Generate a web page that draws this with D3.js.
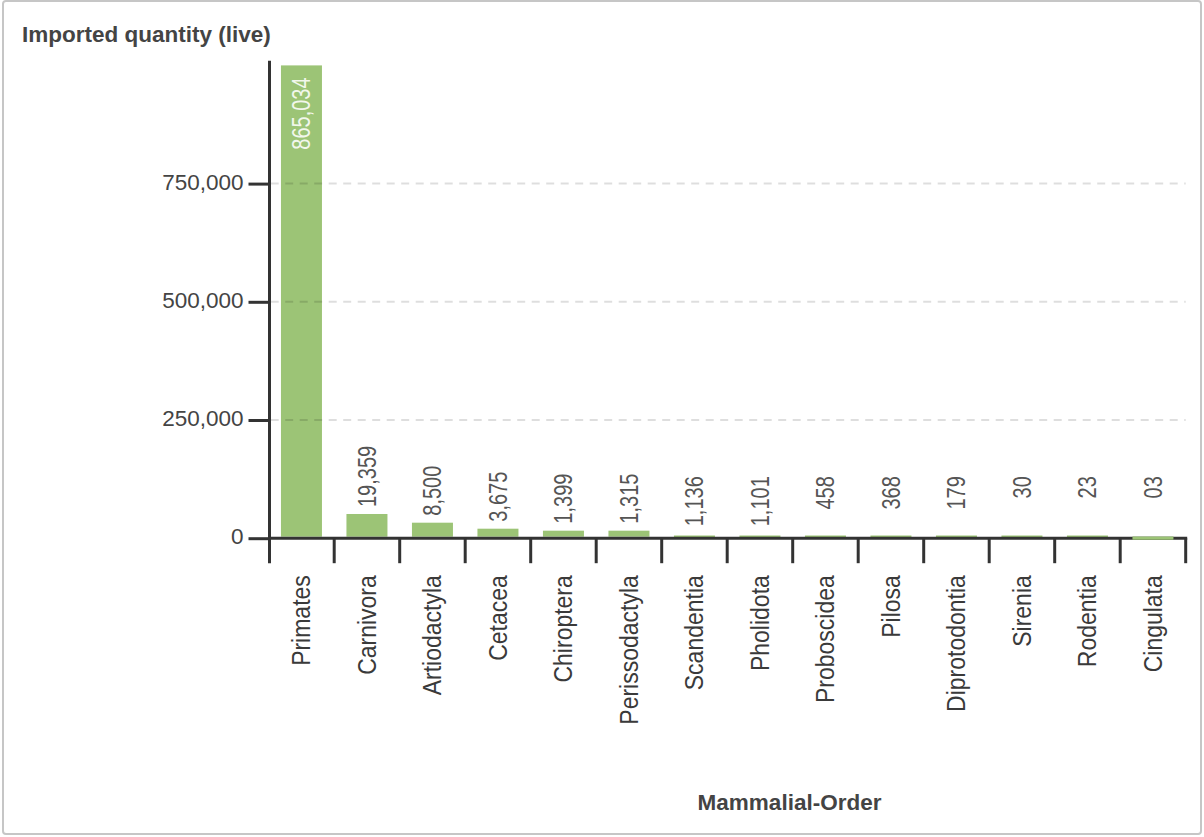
<!DOCTYPE html>
<html>
<head>
<meta charset="utf-8">
<script src="https://cdn.jsdelivr.net/npm/d3@7/dist/d3.min.js"></script>
<style>
  html, body { margin: 0; padding: 0; background: #fff; }
  svg { display: block; font-family: "Liberation Sans", Arial, sans-serif; }
</style>
</head>
<body>
<svg id="chart" width="1204" height="837"></svg>
<script>
// ---- data ----
const categories = ["Primates", "Carnivora", "Artiodactyla", "Cetacea", "Chiroptera", "Perissodactyla",
  "Scandentia", "Pholidota", "Proboscidea", "Pilosa", "Diprotodontia", "Sirenia", "Rodentia", "Cingulata"];
const barValues = [1000000, 51200, 32800, 20100, 15900, 15900, 5700, 5700, 5700, 5700, 5700, 5700, 5700, 0];
const valueLabels = ["865,034", "19,359", "8,500", "3,675", "1,399", "1,315", "1,136", "1,101",
  "458", "368", "179", "30", "23", "03"];
const yTickValues = [0, 250000, 500000, 750000];
const yTitle = "Imported quantity (live)";
const xTitle = "Mammalial-Order";

// ---- layout ----
const W = 1204, H = 837;
const svg = d3.select("#chart");
const axisColor = "#333333";
const barColor = "#9cc476";

// card border
svg.append("rect")
  .attr("x", 3).attr("y", 1).attr("width", W - 6).attr("height", H - 4)
  .attr("rx", 3).attr("fill", "none").attr("stroke", "#c6c6c6").attr("stroke-width", 2);

const y = d3.scaleLinear().domain([0, 1000000]).range([538.2, 65.4]);
const x = d3.scaleBand().domain(categories).range([268.7, 1185.7])
  .paddingInner(0.374).paddingOuter(0.187);
const step = x.step();
const zeroY = y(0);
const left = x.range()[0], right = x.range()[1];

// bars
svg.append("g").selectAll("rect").data(categories).join("rect")
  .attr("x", (d) => x(d))
  .attr("width", x.bandwidth())
  .attr("y", (d, i) => barValues[i] === 0 ? zeroY - 1.5 : y(barValues[i]))
  .attr("height", (d, i) => barValues[i] === 0 ? 3 : Math.max(zeroY - 1.5 - y(barValues[i]), 3))
  .attr("fill", barColor);

// gridlines (dashed, over bars)
svg.append("g").selectAll("line").data(yTickValues.filter(v => v > 0)).join("line")
  .attr("x1", left + 2).attr("x2", right)
  .attr("y1", d => y(d)).attr("y2", d => y(d))
  .attr("stroke", "rgba(0,0,0,0.13)").attr("stroke-width", 2)
  .attr("stroke-dasharray", "8,6.5");

// y axis
const yAxisG = svg.append("g").attr("transform", `translate(${left + 0.8},0)`)
  .call(d3.axisLeft(y).tickValues(yTickValues).tickSize(21).tickPadding(5).tickFormat(d3.format(",")));
yAxisG.select(".domain").remove();
yAxisG.selectAll(".tick line").attr("stroke", axisColor).attr("stroke-width", 3);
yAxisG.selectAll(".tick text")
  .attr("font-size", 22.5).attr("fill", "#444").attr("dy", 5.5)
  .attr("font-family", "'Liberation Sans', Arial, sans-serif");
// y axis line
svg.append("line")
  .attr("x1", left + 0.8).attr("x2", left + 0.8)
  .attr("y1", y(1010000)).attr("y2", zeroY + 25)
  .attr("stroke", axisColor).attr("stroke-width", 3);

// x axis line and boundary ticks
svg.append("line")
  .attr("x1", left).attr("x2", right + 1.5)
  .attr("y1", zeroY).attr("y2", zeroY)
  .attr("stroke", axisColor).attr("stroke-width", 3);
const boundaries = categories.map(c => x(c) - step * x.paddingInner() / 2 + step).slice(0);
svg.append("g").selectAll("line").data(boundaries).join("line")
  .attr("x1", d => d).attr("x2", d => d)
  .attr("y1", zeroY).attr("y2", zeroY + 25)
  .attr("stroke", axisColor).attr("stroke-width", 3);

// redraw zero-value bar on top of axis
svg.append("g").selectAll("rect").data(categories.filter((c, i) => barValues[i] === 0)).join("rect")
  .attr("x", d => x(d)).attr("width", x.bandwidth())
  .attr("y", zeroY - 1.5).attr("height", 3).attr("fill", barColor);

// category labels
svg.append("g").selectAll("text").data(categories).join("text")
  .attr("transform", d => `translate(${x(d) + x.bandwidth() / 2},${zeroY + 37}) rotate(-90) scale(1,1.1)`)
  .attr("text-anchor", "end").attr("dy", "0.35em")
  .attr("font-size", 23).attr("fill", "#3a3a3a")
  .text(d => d);

// value labels
const vl = svg.append("g").selectAll("text").data(categories).join("text")
  .attr("text-anchor", "end").attr("dy", "0.35em")
  .attr("font-size", 20)
  .attr("fill", (d, i) => i === 0 ? "#f2f7ec" : "#555")
  .text((d, i) => valueLabels[i]);
vl.each(function (d, i) {
  const len = this.getComputedTextLength();
  const cx = x(d) + x.bandwidth() / 2;
  const barTop = y(barValues[i]);
  let top;
  if (i === 0) top = barTop + 12;
  else top = Math.min(barTop - 7 - len, zeroY - 62);
  d3.select(this).attr("transform", `translate(${cx},${top}) rotate(-90) scale(1,1.28)`);
});

// titles
svg.append("text").attr("x", 22).attr("y", 42)
  .attr("font-size", 22.5).attr("font-weight", "bold").attr("fill", "#444")
  .text(yTitle);
svg.append("text").attr("x", 789.5).attr("y", 810).attr("text-anchor", "middle")
  .attr("font-size", 22.5).attr("font-weight", "bold").attr("fill", "#444")
  .text(xTitle);
</script>
</body>
</html>
